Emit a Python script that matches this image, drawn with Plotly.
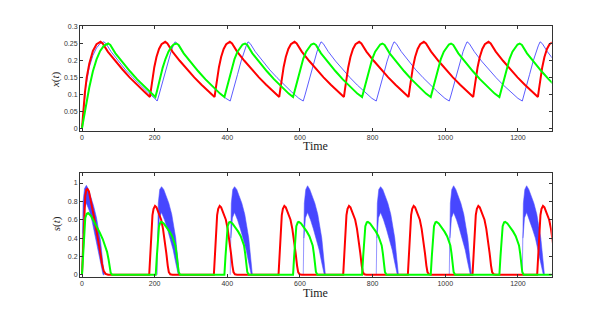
import plotly.graph_objects as go

# ---------------- top panel: x(t) ----------------
red_x_t = [0, 4, 8, 13, 20, 30, 40, 51,
           57, 71, 91, 111, 131, 151, 171, 187, 190, 194, 199, 205, 212, 219, 229,
           235, 249, 269, 289, 309, 329, 349, 365, 368, 372, 377, 383, 390, 397, 407,
           413, 427, 447, 467, 487, 507, 527, 543, 546, 550, 555, 561, 568, 575, 585,
           591, 605, 625, 645, 665, 685, 705, 721, 724, 728, 733, 739, 746, 753, 763,
           769, 783, 803, 823, 843, 863, 883, 899, 902, 906, 911, 917, 924, 931, 941,
           947, 961, 981, 1001, 1021, 1041, 1061, 1077, 1080, 1084, 1089, 1095, 1102, 1109, 1119,
           1125, 1139, 1159, 1179, 1199, 1219, 1239, 1255, 1258, 1262, 1267, 1273, 1280, 1287, 1297]
red_x = [0, 0.06, 0.105, 0.15, 0.19, 0.228, 0.248, 0.255,
         0.25, 0.226, 0.199, 0.174, 0.15, 0.128, 0.108, 0.092, 0.115, 0.145, 0.18, 0.21, 0.234, 0.248, 0.255,
         0.25, 0.226, 0.199, 0.174, 0.15, 0.128, 0.108, 0.092, 0.115, 0.145, 0.18, 0.21, 0.234, 0.248, 0.255,
         0.25, 0.226, 0.199, 0.174, 0.15, 0.128, 0.108, 0.092, 0.115, 0.145, 0.18, 0.21, 0.234, 0.248, 0.255,
         0.25, 0.226, 0.199, 0.174, 0.15, 0.128, 0.108, 0.092, 0.115, 0.145, 0.18, 0.21, 0.234, 0.248, 0.255,
         0.25, 0.226, 0.199, 0.174, 0.15, 0.128, 0.108, 0.092, 0.115, 0.145, 0.18, 0.21, 0.234, 0.248, 0.255,
         0.25, 0.226, 0.199, 0.174, 0.15, 0.128, 0.108, 0.092, 0.115, 0.145, 0.18, 0.21, 0.234, 0.248, 0.255,
         0.25, 0.226, 0.199, 0.174, 0.15, 0.128, 0.108, 0.092, 0.115, 0.145, 0.18, 0.21, 0.234, 0.248, 0.255]

green_x_t = [0, 5, 10, 15, 20, 30, 40, 50, 60, 72,
             78, 92, 112, 132, 152, 172, 192, 202, 207, 214, 222, 230, 238, 246, 252, 260,
             266, 280, 300, 320, 340, 360, 380, 392, 397, 404, 412, 420, 428, 436, 442, 449,
             455, 469, 489, 509, 529, 549, 569, 581, 586, 593, 601, 609, 617, 625, 631, 638,
             644, 658, 678, 698, 718, 738, 758, 771, 776, 783, 791, 799, 807, 815, 821, 827,
             833, 847, 867, 887, 907, 927, 947, 960, 965, 972, 980, 988, 996, 1004, 1010, 1016,
             1022, 1036, 1056, 1076, 1096, 1116, 1136, 1149, 1154, 1161, 1169, 1177, 1185, 1193, 1199, 1205,
             1211, 1225, 1245, 1265, 1285, 1305]
green_x = [0, 0.03, 0.062, 0.092, 0.12, 0.168, 0.203, 0.228, 0.243, 0.25,
           0.246, 0.221, 0.193, 0.168, 0.144, 0.122, 0.102, 0.092, 0.112, 0.145, 0.178, 0.205, 0.226, 0.24, 0.247, 0.25,
           0.246, 0.221, 0.193, 0.168, 0.144, 0.122, 0.102, 0.092, 0.112, 0.145, 0.178, 0.205, 0.226, 0.24, 0.247, 0.25,
           0.246, 0.221, 0.193, 0.168, 0.144, 0.122, 0.102, 0.092, 0.112, 0.145, 0.178, 0.205, 0.226, 0.24, 0.247, 0.25,
           0.246, 0.221, 0.193, 0.168, 0.144, 0.122, 0.102, 0.092, 0.112, 0.145, 0.178, 0.205, 0.226, 0.24, 0.247, 0.25,
           0.246, 0.221, 0.193, 0.168, 0.144, 0.122, 0.102, 0.092, 0.112, 0.145, 0.178, 0.205, 0.226, 0.24, 0.247, 0.25,
           0.246, 0.221, 0.193, 0.168, 0.144, 0.122, 0.102, 0.092, 0.112, 0.145, 0.178, 0.205, 0.226, 0.24, 0.247, 0.25,
           0.246, 0.221, 0.193, 0.168, 0.144, 0.122]

blue_x_t = [0, 5, 10, 20, 30, 40, 50, 60,
            66, 80, 100, 120, 140, 160, 180, 200, 207,
            212, 217, 227, 237, 245, 251, 256,
            262, 276, 296, 316, 336, 356, 376, 396, 408,
            413, 418, 428, 438, 446, 452, 457,
            463, 477, 497, 517, 537, 557, 577, 597, 609,
            614, 619, 629, 639, 647, 653, 658,
            664, 678, 698, 718, 738, 758, 778, 798, 810,
            815, 820, 830, 840, 848, 854, 859,
            865, 879, 899, 919, 939, 959, 979, 999, 1011,
            1016, 1021, 1031, 1041, 1049, 1055, 1060,
            1066, 1080, 1100, 1120, 1140, 1160, 1180, 1200, 1212,
            1217, 1222, 1232, 1242, 1250, 1256, 1261,
            1267, 1281, 1301]
blue_x = [0, 0.07, 0.12, 0.18, 0.215, 0.237, 0.25, 0.255,
          0.25, 0.226, 0.198, 0.172, 0.149, 0.127, 0.107, 0.088, 0.08,
          0.098, 0.118, 0.158, 0.198, 0.226, 0.243, 0.255,
          0.25, 0.226, 0.198, 0.172, 0.149, 0.127, 0.107, 0.088, 0.08,
          0.098, 0.118, 0.158, 0.198, 0.226, 0.243, 0.255,
          0.25, 0.226, 0.198, 0.172, 0.149, 0.127, 0.107, 0.088, 0.08,
          0.098, 0.118, 0.158, 0.198, 0.226, 0.243, 0.255,
          0.25, 0.226, 0.198, 0.172, 0.149, 0.127, 0.107, 0.088, 0.08,
          0.098, 0.118, 0.158, 0.198, 0.226, 0.243, 0.255,
          0.25, 0.226, 0.198, 0.172, 0.149, 0.127, 0.107, 0.088, 0.08,
          0.098, 0.118, 0.158, 0.198, 0.226, 0.243, 0.255,
          0.25, 0.226, 0.198, 0.172, 0.149, 0.127, 0.107, 0.088, 0.08,
          0.098, 0.118, 0.158, 0.198, 0.226, 0.243, 0.255,
          0.25, 0.226, 0.198]

# ---------------- bottom panel: s(t) ----------------
red_s_t = [0, 3, 6, 9, 12, 15, 19, 25, 31, 38, 45, 50, 55, 60, 65, 72,
           185, 188, 191, 194, 197, 201, 205, 212, 218, 223, 228, 232, 236, 239, 243, 249,
           363, 366, 369, 372, 375, 379, 383, 390, 396, 401, 406, 410, 414, 417, 421, 427,
           541, 544, 547, 550, 553, 557, 561, 568, 574, 579, 584, 588, 592, 595, 599, 605,
           719, 722, 725, 728, 731, 735, 739, 746, 752, 757, 762, 766, 770, 773, 777, 783,
           897, 900, 903, 906, 909, 913, 917, 924, 930, 935, 940, 944, 948, 951, 955, 961,
           1075, 1078, 1081, 1084, 1087, 1091, 1095, 1102, 1108, 1113, 1118, 1122, 1126, 1129, 1133, 1139,
           1253, 1256, 1259, 1262, 1265, 1269, 1273, 1280, 1286, 1291, 1296, 1300, 1304, 1307, 1311, 1317]
red_s = [0, 0.35, 0.68, 0.86, 0.925, 0.935, 0.91, 0.8, 0.67, 0.52, 0.38, 0.25, 0.12, 0.04, 0.01, 0,
         0, 0.25, 0.5, 0.65, 0.72, 0.75, 0.735, 0.67, 0.6, 0.5, 0.38, 0.24, 0.1, 0.03, 0.005, 0,
         0, 0.25, 0.5, 0.65, 0.72, 0.75, 0.735, 0.67, 0.6, 0.5, 0.38, 0.24, 0.1, 0.03, 0.005, 0,
         0, 0.25, 0.5, 0.65, 0.72, 0.75, 0.735, 0.67, 0.6, 0.5, 0.38, 0.24, 0.1, 0.03, 0.005, 0,
         0, 0.25, 0.5, 0.65, 0.72, 0.75, 0.735, 0.67, 0.6, 0.5, 0.38, 0.24, 0.1, 0.03, 0.005, 0,
         0, 0.25, 0.5, 0.65, 0.72, 0.75, 0.735, 0.67, 0.6, 0.5, 0.38, 0.24, 0.1, 0.03, 0.005, 0,
         0, 0.25, 0.5, 0.65, 0.72, 0.75, 0.735, 0.67, 0.6, 0.5, 0.38, 0.24, 0.1, 0.03, 0.005, 0,
         0, 0.25, 0.5, 0.65, 0.72, 0.75, 0.735, 0.67, 0.6, 0.5, 0.38, 0.24, 0.1, 0.03, 0.005, 0]

green_s_t = [0, 3, 6, 9, 13, 17, 25, 33, 41, 49, 57, 64, 69, 73, 76, 79, 83,
             203, 206, 209, 212, 216, 219, 225, 233, 241, 248, 253, 257, 260, 263, 266, 270,
             392, 395, 398, 401, 405, 408, 414, 422, 430, 437, 442, 446, 449, 452, 455, 459,
             581, 584, 587, 590, 594, 597, 603, 611, 619, 626, 631, 635, 638, 641, 644, 648,
             771, 774, 777, 780, 784, 787, 793, 801, 809, 816, 821, 825, 828, 831, 834, 838,
             960, 963, 966, 969, 973, 976, 982, 990, 998, 1005, 1010, 1014, 1017, 1020, 1023, 1027,
             1149, 1152, 1155, 1158, 1162, 1165, 1171, 1179, 1187, 1194, 1199, 1203, 1206, 1209, 1212, 1216,
             1300]
green_s = [0, 0.25, 0.5, 0.62, 0.665, 0.673, 0.64, 0.585, 0.52, 0.46, 0.39, 0.32, 0.25, 0.17, 0.08, 0.02, 0,
           0, 0.2, 0.42, 0.53, 0.572, 0.577, 0.56, 0.52, 0.47, 0.42, 0.37, 0.32, 0.24, 0.1, 0.03, 0,
           0, 0.2, 0.42, 0.53, 0.572, 0.577, 0.56, 0.52, 0.47, 0.42, 0.37, 0.32, 0.24, 0.1, 0.03, 0,
           0, 0.2, 0.42, 0.53, 0.572, 0.577, 0.56, 0.52, 0.47, 0.42, 0.37, 0.32, 0.24, 0.1, 0.03, 0,
           0, 0.2, 0.42, 0.53, 0.572, 0.577, 0.56, 0.52, 0.47, 0.42, 0.37, 0.32, 0.24, 0.1, 0.03, 0,
           0, 0.2, 0.42, 0.53, 0.572, 0.577, 0.56, 0.52, 0.47, 0.42, 0.37, 0.32, 0.24, 0.1, 0.03, 0,
           0, 0.2, 0.42, 0.53, 0.572, 0.577, 0.56, 0.52, 0.47, 0.42, 0.37, 0.32, 0.24, 0.1, 0.03, 0,
           0]

# blue s(t): fast oscillation, read as an upper and a lower envelope per pulse
blue_up_t = [[0, 1, 3, 7, 12, 18, 25, 32, 40, 46, 51, 55, 58, 61],
             [207, 208, 210, 214, 219, 225, 232, 239, 247, 253, 258, 262, 265, 268],
             [408, 409, 411, 415, 420, 426, 433, 440, 448, 454, 459, 463, 466, 469],
             [609, 610, 612, 616, 621, 627, 634, 641, 649, 655, 660, 664, 667, 670],
             [810, 811, 813, 817, 822, 828, 835, 842, 850, 856, 861, 865, 868, 871],
             [1011, 1012, 1014, 1018, 1023, 1029, 1036, 1043, 1051, 1057, 1062, 1066, 1069, 1072],
             [1212, 1213, 1215, 1219, 1224, 1230, 1237, 1244, 1252, 1258, 1263, 1267, 1270, 1273]]
blue_up = [[0, 0.55, 0.8, 0.94, 0.975, 0.93, 0.85, 0.75, 0.62, 0.5, 0.37, 0.22, 0.07, 0],
           [0, 0.5, 0.78, 0.93, 0.96, 0.93, 0.86, 0.78, 0.66, 0.54, 0.4, 0.24, 0.08, 0],
           [0, 0.5, 0.78, 0.93, 0.96, 0.93, 0.86, 0.78, 0.66, 0.54, 0.4, 0.24, 0.08, 0],
           [0, 0.5, 0.78, 0.93, 0.97, 0.93, 0.86, 0.78, 0.66, 0.54, 0.4, 0.24, 0.08, 0],
           [0, 0.5, 0.78, 0.93, 0.96, 0.93, 0.86, 0.78, 0.66, 0.54, 0.4, 0.24, 0.08, 0],
           [0, 0.5, 0.78, 0.93, 0.97, 0.93, 0.86, 0.78, 0.66, 0.54, 0.4, 0.24, 0.08, 0],
           [0, 0.5, 0.78, 0.93, 0.97, 0.93, 0.86, 0.78, 0.66, 0.54, 0.4, 0.24, 0.08, 0]]
blue_lo_t = [[2, 6, 12, 20, 28, 36, 44, 50, 55, 58],
             [209, 213, 219, 227, 235, 243, 251, 257, 262, 265],
             [410, 414, 420, 428, 436, 444, 452, 458, 463, 466],
             [611, 615, 621, 629, 637, 645, 653, 659, 664, 667],
             [812, 816, 822, 830, 838, 846, 854, 860, 865, 868],
             [1013, 1017, 1023, 1031, 1039, 1047, 1055, 1061, 1066, 1069],
             [1214, 1218, 1224, 1232, 1240, 1248, 1256, 1262, 1267, 1270]]
blue_lo = [[0.45, 0.72, 0.78, 0.7, 0.58, 0.45, 0.3, 0.17, 0.06, 0],
           [0.4, 0.62, 0.68, 0.6, 0.5, 0.4, 0.27, 0.15, 0.05, 0],
           [0.4, 0.62, 0.68, 0.6, 0.5, 0.4, 0.27, 0.15, 0.05, 0],
           [0.4, 0.62, 0.68, 0.6, 0.5, 0.4, 0.27, 0.15, 0.05, 0],
           [0.4, 0.62, 0.68, 0.6, 0.5, 0.4, 0.27, 0.15, 0.05, 0],
           [0.4, 0.62, 0.68, 0.6, 0.5, 0.4, 0.27, 0.15, 0.05, 0],
           [0.4, 0.62, 0.68, 0.6, 0.5, 0.4, 0.27, 0.15, 0.05, 0]]

x_ticks = [0, 200, 400, 600, 800, 1000, 1200]
x_ticktext = ["0", "200", "400", "600", "800", "1000", "1200"]
y1_ticks = [0, 0.05, 0.1, 0.15, 0.2, 0.25, 0.3]
y1_ticktext = ["0", "0.05", "0.1", "0.15", "0.2", "0.25", "0.3"]
y2_ticks = [0, 0.2, 0.4, 0.6, 0.8, 1.0]
y2_ticktext = ["0", "0.2", "0.4", "0.6", "0.8", "1"]

RED = "rgb(255,0,0)"
GREEN = "rgb(0,255,0)"

fig = go.Figure()

# top
fig.add_trace(go.Scatter(x=blue_x_t, y=blue_x, mode="lines",
                         line=dict(color="rgb(50,50,255)", width=0.8), xaxis="x", yaxis="y"))
fig.add_trace(go.Scatter(x=red_x_t, y=red_x, mode="lines",
                         line=dict(color=RED, width=2), xaxis="x", yaxis="y"))
fig.add_trace(go.Scatter(x=green_x_t, y=green_x, mode="lines",
                         line=dict(color=GREEN, width=2), xaxis="x", yaxis="y"))

# bottom: blue band polygons
poly_t, poly_y = [], []
for ut, uy, lt, ly in zip(blue_up_t, blue_up, blue_lo_t, blue_lo):
    poly_t += list(ut) + list(reversed(lt)) + [None]
    poly_y += list(uy) + list(reversed(ly)) + [None]
fig.add_trace(go.Scatter(x=poly_t, y=poly_y, mode="lines", fill="toself",
                         fillcolor="rgba(0,0,255,0.72)",
                         line=dict(color="rgba(80,80,255,0.7)", width=0.8),
                         xaxis="x2", yaxis="y2"))
fig.add_trace(go.Scatter(x=red_s_t, y=red_s, mode="lines",
                         line=dict(color=RED, width=2), xaxis="x2", yaxis="y2"))
fig.add_trace(go.Scatter(x=green_s_t, y=green_s, mode="lines",
                         line=dict(color=GREEN, width=2), xaxis="x2", yaxis="y2"))

# page body has an 8 px margin: the figure is laid out in 601x305 px
W, H = 601, 305
AX = "#333333"
tickfont = dict(family="Liberation Sans, Arial, sans-serif", size=7, color="#333333")
common_x = dict(range=[-5.5, 1293], tickvals=x_ticks, ticktext=x_ticktext,
                ticks="inside", ticklen=3, tickcolor=AX, showline=True, linecolor=AX,
                linewidth=1, mirror="ticks", showgrid=False, zeroline=False,
                tickfont=tickfont, domain=[72 / W, 543.7 / W])
common_y = dict(ticks="inside", ticklen=3, tickcolor=AX, showline=True, linecolor=AX,
                linewidth=1, mirror="ticks", showgrid=False, zeroline=False,
                tickfont=tickfont)

fig.update_layout(
    width=W, height=H,
    margin=dict(l=0, r=0, t=0, b=0),
    paper_bgcolor="white", plot_bgcolor="white",
    showlegend=False,
    xaxis=dict(anchor="y", **common_x),
    yaxis=dict(anchor="x", domain=[1 - 121.3 / H, 1 - 15.3 / H], range=[-0.0077, 0.3015],
               tickvals=y1_ticks, ticktext=y1_ticktext, **common_y),
    xaxis2=dict(anchor="y2", **common_x),
    yaxis2=dict(anchor="x2", domain=[1 - 269.5 / H, 1 - 163.7 / H], range=[-0.0237, 1.114],
                tickvals=y2_ticks, ticktext=y2_ticktext, **common_y),
)

serif = "Liberation Serif, DejaVu Serif, serif"
ann = [
    dict(text="Time", x=307.8 / W, y=1 - 137 / H, font=dict(family=serif, size=12, color="#222")),
    dict(text="Time", x=307.8 / W, y=1 - 286 / H, font=dict(family=serif, size=12, color="#222")),
    dict(text="<i>x</i>(<i>t</i>)", x=47 / W, y=1 - 70 / H, textangle=-90,
         font=dict(family=serif, size=11, color="#222")),
    dict(text="<i>s</i>(<i>t</i>)", x=48 / W, y=1 - 216 / H, textangle=-90,
         font=dict(family=serif, size=11, color="#222")),
]
for a in ann:
    fig.add_annotation(xref="paper", yref="paper", showarrow=False,
                       xanchor="center", yanchor="middle", **a)

fig.write_html("out.html")
